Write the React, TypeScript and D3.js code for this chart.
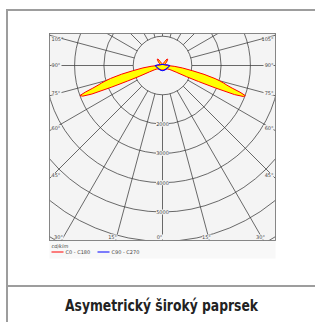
import React from 'react';
import * as d3 from 'd3';

// gamma angles (deg from nadir) for the C0 / C180 half planes
const GAMMA = [0, 10, 20, 30, 40, 50, 55, 60, 62, 64, 65, 66, 67, 68, 69, 70, 71, 72, 73, 74, 75, 76, 78, 80, 83, 86, 90, 100, 110, 120, 130, 140, 145, 150, 160, 170, 180];
const C0 = [150, 150, 150, 160, 170, 190, 210, 260, 330, 520, 900, 1350, 1950, 2650, 2950, 3010, 2800, 2500, 2300, 2170, 2020, 1850, 1450, 1050, 680, 400, 170, 90, 70, 90, 180, 280, 270, 160, 70, 40, 30];
const C180 = [150, 150, 150, 160, 170, 190, 210, 250, 320, 500, 880, 1300, 1900, 2600, 2920, 3000, 2780, 2500, 2300, 2160, 2000, 1830, 1430, 1030, 670, 390, 170, 90, 70, 90, 180, 280, 270, 160, 70, 40, 30];

// C90 / C270 half planes
const BLUE_GAMMA = [0, 20, 40, 60, 80, 90, 100, 120, 150, 180];
const C90 = [180, 175, 170, 180, 220, 240, 160, 60, 40, 40];
const C270 = [180, 175, 170, 180, 220, 240, 160, 60, 40, 40];

const RINGS = [1000, 2000, 3000, 4000, 5000, 6000, 7000, 8000];
const RING_LABELS = [2000, 3000, 4000, 5000];
const SPOKES = [0, 15, 30, 45, 60, 75, 90, 105, 120, 135, 150, 165, 180];
const SIDE_LABELS = [105, 90, 75, 60, 45];
const BOTTOM_LABELS = [30, 15, 0];
const LEGEND = [
  { label: 'C0 - C180', color: '#ff0000' },
  { label: 'C90 - C270', color: '#0000ff' },
];
const UNIT = 'cd/klm';
const TITLE = 'Asymetrický široký paprsek';

export default function App() {
  const W = 315, H = 322;
  const box = { x0: 49.5, x1: 275.5, y0: 33.5, y1: 240.5 };
  const cx = 162.5, cy = 65.5;

  const r = d3.scaleLinear().domain([0, 1000]).range([0, 29.3]);
  const rad = (deg: number) => (deg * Math.PI) / 180;

  // closed outline: left half (C180) from 180 -> 0, then right half (C0) 0 -> 180
  const redPts: [number, number][] = [
    ...GAMMA.map((g, i) => [Math.PI + rad(g), r(C180[i])] as [number, number]).reverse(),
    ...GAMMA.map((g, i) => [Math.PI - rad(g), r(C0[i])] as [number, number]),
  ];
  const bluePts: [number, number][] = [
    ...BLUE_GAMMA.map((g, i) => [Math.PI + rad(g), r(C270[i])] as [number, number]).reverse(),
    ...BLUE_GAMMA.map((g, i) => [Math.PI - rad(g), r(C90[i])] as [number, number]),
  ];
  const radial = d3.lineRadial<[number, number]>()
    .angle(d => d[0])
    .radius(d => d[1])
    .curve(d3.curveLinearClosed);

  const labelFont = { fontFamily: 'DejaVu Sans, sans-serif', fontSize: 5, fill: '#444' };
  const bg = '#f4f4f4';
  const gridColor = '#3a3a3a';

  // y where a spoke at gamma meets the left/right edge
  const edgeY = (g: number) => cy + (cx - box.x0) / Math.tan(rad(g));
  const bottomX = (g: number) => (box.y1 - cy) * Math.tan(rad(g));

  return (
    <svg width={W} height={H} style={{ position: 'absolute', left: 0, top: 0, background: '#fff' }}>
      {/* outer frame */}
      <rect x={6} y={9} width={W} height={2} fill="#9d9d9d" />
      <rect x={6} y={9} width={2} height={H} fill="#9d9d9d" />
      <rect x={6} y={285} width={W} height={2} fill="#9d9d9d" />

      {/* chart background + legend strip */}
      <rect x={box.x0} y={box.y0} width={box.x1 - box.x0} height={box.y1 - box.y0} fill={bg} />
      <rect x={box.x0} y={box.y1} width={box.x1 - box.x0} height={18} fill="#f8f8f8" />

      <defs>
        <clipPath id="plot">
          <rect x={box.x0} y={box.y0} width={box.x1 - box.x0} height={box.y1 - box.y0} />
        </clipPath>
      </defs>

      <g clipPath="url(#plot)">
        <g transform={`translate(${cx},${cy})`}>
          {RINGS.map(v => (
            <circle key={v} r={r(v)} fill="none" stroke={gridColor} strokeWidth={0.75} />
          ))}
          {SPOKES.flatMap(g => (g === 0 || g === 180 ? [1] : [1, -1]).map(s => (
            <line key={`${g}${s}`}
              x1={s * r(1000) * Math.sin(rad(g))} y1={r(1000) * Math.cos(rad(g))}
              x2={s * 400 * Math.sin(rad(g))} y2={400 * Math.cos(rad(g))}
              stroke={gridColor} strokeWidth={0.75} />
          )))}
          {RING_LABELS.map(v => (
            <g key={v} transform={`translate(0,${r(v)})`}>
              <rect x={-6.5} y={-2.5} width={13} height={5} fill={bg} />
              <text textAnchor="middle" dy={1.8} {...labelFont}>{v}</text>
            </g>
          ))}

          {/* intensity curves */}
          <path d={radial(redPts) ?? ''} fill="#ffff00" stroke="#ff0000" strokeWidth={1} strokeLinejoin="round" />
          <path d={radial(bluePts) ?? ''} fill="none" stroke="#0000ff" strokeWidth={1.1} />
        </g>

        {/* angle labels on the sides */}
        {SIDE_LABELS.flatMap(g => [-1, 1].map(s => {
          const y = g === 90 ? cy : edgeY(g) + (g > 90 ? 4 : -3);
          const x = s < 0 ? box.x0 + 2 : box.x1 - 2;
          return (
            <g key={`${g}${s}`}>
              <rect x={s < 0 ? x : x - 10} y={y - 2.6} width={10} height={5} fill={bg} />
              <text x={x} y={y + 1.8} textAnchor={s < 0 ? 'start' : 'end'} {...labelFont}>{`${g}°`}</text>
            </g>
          );
        }))}
        {BOTTOM_LABELS.flatMap(g => (g === 0 ? [1] : [-1, 1]).map(s => {
          const x = cx + s * bottomX(g) - 3;
          return (
            <g key={`b${g}${s}`}>
              <rect x={x - 4} y={box.y1 - 6} width={9} height={5} fill={bg} />
              <text x={x} y={box.y1 - 2} textAnchor="middle" {...labelFont}>{`${g}°`}</text>
            </g>
          );
        }))}
      </g>

      <rect x={box.x0} y={box.y0} width={box.x1 - box.x0} height={box.y1 - box.y0} fill="none" stroke="#7a7a7a" strokeWidth={0.9} />

      {/* legend */}
      <text x={box.x0 + 2} y={box.y1 + 7} {...labelFont} fontStyle="italic">{UNIT}</text>
      {LEGEND.map((d, i) => {
        const x = box.x0 + 2 + i * 46;
        return (
          <g key={d.label}>
            <line x1={x} x2={x + 12} y1={box.y1 + 11.5} y2={box.y1 + 11.5} stroke={d.color} strokeWidth={1} />
            <text x={x + 14} y={box.y1 + 13.3} {...labelFont}>{d.label}</text>
          </g>
        );
      })}

      {/* title */}
      <text x={161.5} y={310.5} textAnchor="middle" textLength={193} lengthAdjust="spacingAndGlyphs"
        fontFamily="'Liberation Sans Narrow', 'DejaVu Sans Condensed', 'Roboto', sans-serif"
        fontWeight="bold" fontSize={16} fill="#222">{TITLE}</text>
    </svg>
  );
}
